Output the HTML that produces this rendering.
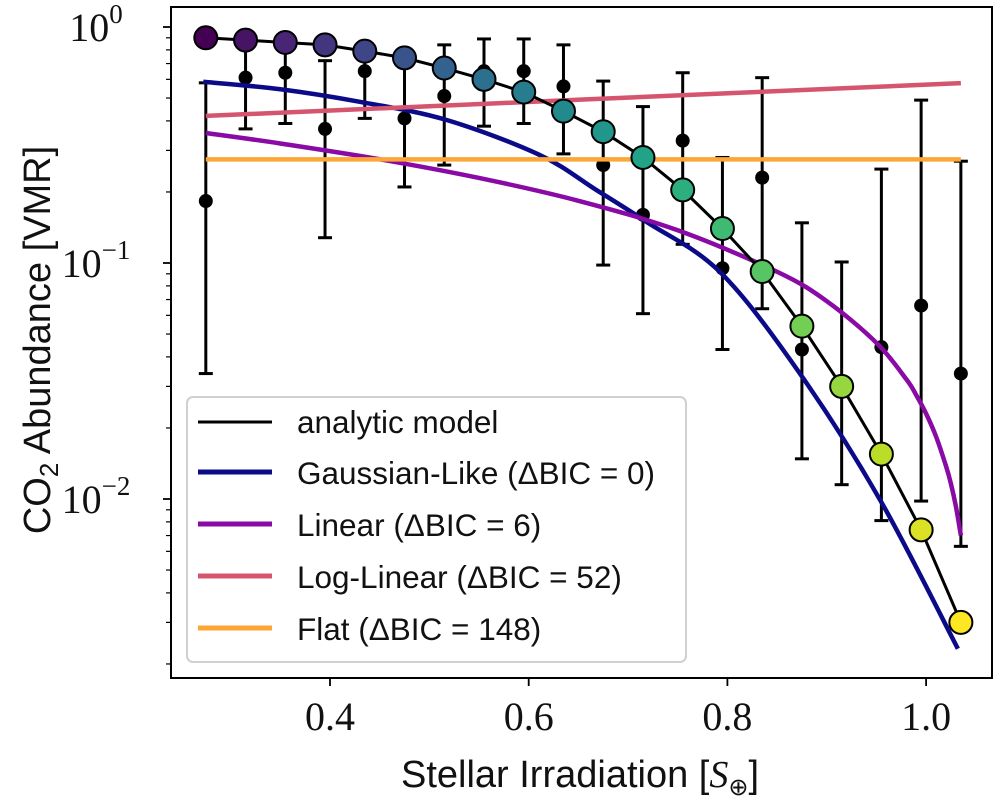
<!DOCTYPE html>
<html><head><meta charset="utf-8"><style>
html,body{margin:0;padding:0;background:#fff}
svg{display:block}
.tk{font-family:"Liberation Serif",serif;font-size:40px;fill:#111}
.lab{font-family:"Liberation Sans",sans-serif;font-size:38px;fill:#111}
.lg{font-family:"Liberation Sans",sans-serif;font-size:31.5px;fill:#111}
</style></head><body>
<svg id="chart" width="1000" height="803" viewBox="0 0 1000 803" xmlns="http://www.w3.org/2000/svg">
<g id="grid"></g>
<g id="series"></g>
<rect x="171" y="7" width="821" height="671" fill="none" stroke="#000" stroke-width="2"/>
<g id="axes"></g>
<text class="lab" x="580" y="787" text-anchor="middle">Stellar Irradiation [<tspan font-family="Liberation Serif" font-style="italic">S</tspan><tspan font-size="24" dy="8">⊕</tspan><tspan dy="-8">]</tspan></text>
<text class="lab" transform="translate(50,340) rotate(-90)" text-anchor="middle">CO<tspan font-size="26" dy="8">2</tspan><tspan dy="-8"> Abundance [VMR]</tspan></text>
<g>
<rect x="187" y="397" width="499" height="265" rx="6" fill="#fff" fill-opacity="0.85" stroke="#d0d0d0" stroke-width="2"/>
<line x1="198" y1="422" x2="272" y2="422" stroke="#000" stroke-width="3"/>
<text class="lg" x="297" y="433">analytic model</text>
<line x1="198" y1="472" x2="272" y2="472" stroke="#0b0b8a" stroke-width="5"/>
<text class="lg" x="297" y="484">Gaussian-Like (ΔBIC = 0)</text>
<line x1="198" y1="524" x2="272" y2="524" stroke="#8a0aa5" stroke-width="5"/>
<text class="lg" x="297" y="536">Linear (ΔBIC = 6)</text>
<line x1="198" y1="576" x2="272" y2="576" stroke="#d5546e" stroke-width="5"/>
<text class="lg" x="297" y="588">Log-Linear (ΔBIC = 52)</text>
<line x1="198" y1="628" x2="272" y2="628" stroke="#fca636" stroke-width="5"/>
<text class="lg" x="297" y="640">Flat (ΔBIC = 148)</text>
</g>
</svg>
<script>
const xs = [0.275,0.315,0.355,0.395,0.435,0.475,0.515,0.555,0.595,0.635,0.675,0.715,0.755,0.795,0.835,0.875,0.915,0.955,0.995,1.035];
const modelVals = [0.90,0.88,0.86,0.84,0.79,0.74,0.67,0.60,0.53,0.44,0.36,0.28,0.204,0.14,0.092,0.054,0.030,0.0155,0.0074,0.0030];
const obsVals = [0.183,0.61,0.64,0.37,0.65,0.41,0.51,0.65,0.65,0.56,0.26,0.16,0.33,0.095,0.23,0.043,0.031,0.044,0.066,0.034];
const obsHigh = [0.58,0.88,0.88,0.72,0.80,0.75,0.84,0.89,0.89,0.84,0.59,0.46,0.64,0.28,0.61,0.148,0.101,0.25,0.49,0.27];
const obsLow = [0.034,0.37,0.39,0.128,0.41,0.21,0.26,0.38,0.39,0.29,0.098,0.061,0.12,0.043,0.064,0.0148,0.0115,0.0081,0.0098,0.0063];
const gaussX = [0.2725,0.35,0.43,0.517,0.611,0.668,0.719,0.793,0.873,0.954,1.032];
const gaussVals = [0.586,0.545,0.482,0.404,0.287,0.204,0.149,0.0912,0.034,0.00986,0.00232];
const linX = [0.275,0.35,0.45,0.55,0.65,0.75,0.85,0.9,0.95,0.98,0.99,1.0,1.01,1.02,1.025,1.03,1.035];
const linVals = [0.3554,0.321,0.2752,0.2293,0.1835,0.1376,0.0918,0.0689,0.0459,0.0322,0.0276,0.0230,0.0184,0.0138,0.0116,0.0093,0.0070];
const logLinX = [0.275,1.035];
const logLinVals = [0.42,0.578];
const flatX = [0.275,1.035];
const flatVals = [0.275,0.275];
const xTicks = [0.4,0.6,0.8,1.0];
const xTickLabels = ["0.4","0.6","0.8","1.0"];
const yTickExps = [0,-1,-2];

const NS="http://www.w3.org/2000/svg";
const X = v => 330 + (v-0.4)*993.5;
const Y = v => 27 - Math.log10(v)*236;
function el(tag, attrs, parent){const e=document.createElementNS(NS,tag);for(const k in attrs)e.setAttribute(k,attrs[k]);parent.appendChild(e);return e;}
const axes=document.getElementById('axes'), series=document.getElementById('series');
xTicks.forEach((t,i)=>{
  const l=el('line',{x1:X(t),x2:X(t),y1:678,y2:686,stroke:'#000','stroke-width':1.8},axes);
  
  
  const tx=el('text',{x:X(t),y:730,'text-anchor':'middle',class:'tk'},axes);
  tx.textContent=xTickLabels[i];
  
  
});
yTickExps.forEach(e=>{
  const y=Y(Math.pow(10,e));
  const l=el('line',{x1:163,x2:171,y1:y,y2:y,stroke:'#000','stroke-width':1.8},axes);
  
  
  const tx=el('text',{x:96,y:y+14,'text-anchor':'middle',class:'tk'},axes);
  tx.textContent='10';
  
  
  const sp=document.createElementNS(NS,'tspan');
  sp.setAttribute('font-size','27');sp.setAttribute('dy','-18');
  sp.textContent=e===0?'0':'−'+(-e);
  tx.appendChild(sp);
});
for(let e=-3;e<=0;e++){for(let m=2;m<=9;m++){const v=m*Math.pow(10,e);const y=Y(v);if(y<8||y>677)continue;
  const l=el('line',{x1:166,x2:171,y1:y,y2:y,stroke:'#000','stroke-width':1.2},axes);
  
  }}
function smoothPath(px,py){let d=`M${px[0]},${py[0]}`;for(let i=0;i<px.length-1;i++){const p0=i?i-1:i,p3=i+2<px.length?i+2:i+1;
 const c1x=px[i]+(px[i+1]-px[p0])/6,c1y=py[i]+(py[i+1]-py[p0])/6,c2x=px[i+1]-(px[p3]-px[i])/6,c2y=py[i+1]-(py[p3]-py[i])/6;
 d+=` C${c1x},${c1y} ${c2x},${c2y} ${px[i+1]},${py[i+1]}`;}return d;}
xs.forEach((x,i)=>{
  const g=el('g',{},series);
  
  
  const cx=X(x);
  el('line',{x1:cx,x2:cx,y1:Y(obsHigh[i]),y2:Y(obsLow[i]),stroke:'#000','stroke-width':3},g);
  el('line',{x1:cx-7,x2:cx+7,y1:Y(obsHigh[i]),y2:Y(obsHigh[i]),stroke:'#000','stroke-width':3},g);
  el('line',{x1:cx-7,x2:cx+7,y1:Y(obsLow[i]),y2:Y(obsLow[i]),stroke:'#000','stroke-width':3},g);
  el('circle',{cx:cx,cy:Y(obsVals[i]),r:7,fill:'#000'},g);
});
function line(xa,va,color,w,name){const p=el('path',{d:smoothPath(xa.map(X),va.map(Y)),fill:'none',stroke:color,'stroke-width':w},series);}
line(gaussX,gaussVals,'#0b0b8a',4.5,'gaussian-like-fit');
line(linX,linVals,'#8a0aa5',4.5,'linear-fit');
line(logLinX,logLinVals,'#d5546e',4.5,'log-linear-fit');
line(flatX,flatVals,'#fca636',4.5,'flat-fit');
const am=el('polyline',{points:xs.map((x,i)=>X(x)+','+Y(modelVals[i])).join(' '),fill:'none',stroke:'#000','stroke-width':3},series);


const vir=[[68,1,84],[72,35,116],[64,67,135],[52,94,141],[41,120,142],[32,144,140],[34,167,132],[68,190,112],[121,209,81],[189,222,38],[253,231,37]];
function viridis(t){const s=t*(vir.length-1),i=Math.min(Math.floor(s),vir.length-2),f=s-i;return 'rgb('+[0,1,2].map(k=>Math.round(vir[i][k]+(vir[i+1][k]-vir[i][k])*f)).join(',')+')';}
xs.forEach((x,i)=>{
  const c=el('circle',{cx:X(x),cy:Y(modelVals[i]),r:11.5,fill:viridis(i/(xs.length-1)),stroke:'#000','stroke-width':2},series);
  
  
});
</script>
</body></html>
